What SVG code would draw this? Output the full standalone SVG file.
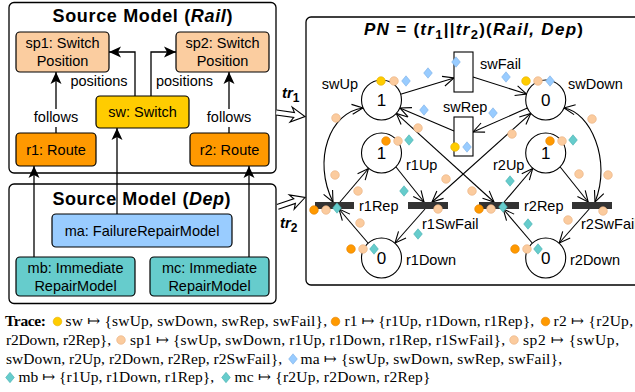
<svg xmlns="http://www.w3.org/2000/svg" xmlns:xlink="http://www.w3.org/1999/xlink" width="635" height="392" viewBox="0 0 635 392">
  <style>
    .frame { fill: #fff; stroke: #000; stroke-width: 1.3; }
    .node { stroke: #000; stroke-width: 1.2; }
    .sans { font-family: "Liberation Sans", Arial, "DejaVu Sans", sans-serif; }
    .lbl { font-family: "Liberation Sans", Arial, "DejaVu Sans", sans-serif; font-size: 14.5px; fill: #000; }
    .mid { text-anchor: middle; }
    .title { font-family: "Liberation Sans", Arial, "DejaVu Sans", sans-serif; font-size: 18px; font-weight: bold; text-anchor: middle; }
    .conn { fill: none; stroke: #000; stroke-width: 1.3; }
    .arc { fill: none; stroke: #000; stroke-width: 1.1; }
    .place { fill: #fff; stroke: #000; stroke-width: 1.1; }
    .trans { fill: #fff; stroke: #000; stroke-width: 1.1; }
    .bar { fill: #333; }
    .mark { font-family: "Liberation Sans", Arial, sans-serif; font-size: 17px; text-anchor: middle; }
    .trace { font-family: "Liberation Serif", "Times New Roman", "DejaVu Serif", serif; font-size: 15.5px; }
    .tk-y { fill: #FFCC00; stroke: #E3AE00; stroke-width: 0.6; }
    .tk-o { fill: #FF9900; stroke: #E07F00; stroke-width: 0.6; }
    .tk-p { fill: #FBCB9E; stroke: #E8AF7E; stroke-width: 0.6; }
    .tk-b { fill: #99CCFF; stroke: #7AAEE6; stroke-width: 0.6; }
    .tk-t { fill: #66CCCC; stroke: #45AFAF; stroke-width: 0.6; }
  </style>
  <defs>
    <marker id="stealth" markerUnits="userSpaceOnUse" markerWidth="14" markerHeight="12" refX="0" refY="0" orient="auto" style="overflow:visible">
      <path d="M-12,-5.5 L0,0 L-12,5.5 L-9,0 Z" fill="#000"/>
    </marker>
    <marker id="vee" markerUnits="userSpaceOnUse" markerWidth="14" markerHeight="12" refX="0" refY="0" orient="auto-start-reverse" style="overflow:visible">
      <path d="M-11,-5 L0,0 L-11,5" fill="none" stroke="#000" stroke-width="1.1"/>
    </marker>
    <circle id="dot" r="4.3"/>
    <path id="dia" d="M0,-5.2 L4.3,0 L0,5.2 L-4.3,0 Z"/>
    <path id="implies" d="M-29,-2.5 L-11,-2.5 L-14,-7.5 L0,0 L-14,7.5 L-11,2.5 L-29,2.5" fill="#fff" stroke="#000" stroke-width="1.1" stroke-linejoin="miter"/>
  </defs>

  <!-- source model frames -->
  <g id="rail-model">
    <rect class="frame" x="9" y="2.5" width="267" height="170.5" rx="5"/>
    <text class="title" x="142.5" y="22" textLength="180" lengthAdjust="spacing">Source Model (<tspan font-style="italic">Rail</tspan>)</text>
  </g>
  <g id="dep-model">
    <rect class="frame" x="9" y="184" width="267" height="119.5" rx="5"/>
    <text class="title" x="141.5" y="205" textLength="178" lengthAdjust="spacing">Source Model (<tspan font-style="italic">Dep</tspan>)</text>
  </g>

  <!-- object nodes -->
  <g id="sp1">
    <rect class="node" x="16" y="32" width="93" height="40" rx="4" fill="#FBCDA0"/>
    <text class="lbl mid" x="62.5" y="48">sp1: Switch</text>
    <text class="lbl mid" x="62.5" y="66">Position</text>
  </g>
  <g id="sp2">
    <rect class="node" x="176" y="32" width="93" height="40" rx="4" fill="#FBCDA0"/>
    <text class="lbl mid" x="222.5" y="48">sp2: Switch</text>
    <text class="lbl mid" x="222.5" y="66">Position</text>
  </g>
  <g id="sw">
    <rect class="node" x="96" y="96" width="93" height="32" rx="4" fill="#FFCC00"/>
    <text class="lbl mid" x="142.5" y="117">sw: Switch</text>
  </g>
  <g id="r1">
    <rect class="node" x="16" y="133" width="80" height="33" rx="4" fill="#FF9900"/>
    <text class="lbl mid" x="56" y="154.5">r1: Route</text>
  </g>
  <g id="r2">
    <rect class="node" x="190" y="133" width="79" height="33" rx="4" fill="#FF9900"/>
    <text class="lbl mid" x="229.5" y="154.5">r2: Route</text>
  </g>
  <g id="ma">
    <rect class="node" x="52" y="214" width="180" height="33" rx="4" fill="#99CCFF"/>
    <text class="lbl mid" x="142" y="235.5">ma: FailureRepairModel</text>
  </g>
  <g id="mb">
    <rect class="node" x="16" y="257" width="119" height="39" rx="4" fill="#66CCCC"/>
    <text class="lbl mid" x="75.5" y="273">mb: Immediate</text>
    <text class="lbl mid" x="75.5" y="291">RepairModel</text>
  </g>
  <g id="mc">
    <rect class="node" x="150" y="257" width="119" height="39" rx="4" fill="#66CCCC"/>
    <text class="lbl mid" x="209.5" y="273">mc: Immediate</text>
    <text class="lbl mid" x="209.5" y="291">RepairModel</text>
  </g>

  <!-- references between objects -->
  <g id="model-connectors">
    <path class="conn" d="M56,133 V127 M56,109 V72" marker-end="url(#stealth)"/>
    <path class="conn" d="M229,133 V127 M229,109 V72" marker-end="url(#stealth)"/>
    <path class="conn" d="M135,96 V52 H109" marker-end="url(#stealth)"/>
    <path class="conn" d="M151,96 V52 H176" marker-end="url(#stealth)"/>
    <path class="conn" d="M34,257 V166" marker-end="url(#stealth)"/>
    <path class="conn" d="M117,214 V128" marker-end="url(#stealth)"/>
    <path class="conn" d="M249,257 V166" marker-end="url(#stealth)"/>
    <text class="lbl mid" x="56" y="122">follows</text>
    <text class="lbl mid" x="229" y="122">follows</text>
    <text class="lbl mid" x="99" y="86">positions</text>
    <text class="lbl mid" x="184.5" y="86">positions</text>
  </g>

  <!-- transformation arrows -->
  <g id="transformations">
    <use href="#implies" transform="translate(305,116.5) rotate(8)"/>
    <use href="#implies" transform="translate(305,197.5) rotate(-19)"/>
    <text class="sans" x="282" y="98" font-size="15" font-weight="bold" font-style="italic">tr<tspan font-style="normal" font-size="12" dy="4">1</tspan></text>
    <text class="sans" x="280" y="228" font-size="15" font-weight="bold" font-style="italic">tr<tspan font-style="normal" font-size="12" dy="4">2</tspan></text>
  </g>

  <!-- resulting Petri net -->
  <g id="petri-net">
    <rect class="frame" x="306" y="17" width="340" height="268" rx="5"/>
    <text class="sans" x="473.5" y="35" font-size="17" font-weight="bold" font-style="italic" text-anchor="middle" textLength="219" lengthAdjust="spacing">PN <tspan font-style="normal">= (</tspan>tr<tspan font-style="normal" font-size="13" dy="4">1</tspan><tspan font-style="normal" dy="-4">||</tspan>tr<tspan font-style="normal" font-size="13" dy="4">2</tspan><tspan font-style="normal" dy="-4">)(</tspan>Rail, Dep<tspan font-style="normal">)</tspan></text>
  </g>

  <g id="pn-arcs">
    <path class="arc" d="M400.6,94.2 L454,78" marker-end="url(#vee)"/>
    <path class="arc" d="M473,77 L526.6,94" marker-end="url(#vee)"/>
    <path class="arc" d="M527.4,108.1 L473,132" marker-end="url(#vee)"/>
    <path class="arc" d="M454,131 L399.9,107.9" marker-end="url(#vee)"/>
    <path class="arc" d="M396.3,113.4 L494,202" marker-start="url(#vee)" marker-end="url(#vee)"/>
    <path class="arc" d="M530.8,113.4 L432,202" marker-start="url(#vee)" marker-end="url(#vee)"/>
    <path class="arc" d="M363,108 C330,112 312,160 333,202" marker-start="url(#vee)" marker-end="url(#vee)"/>
    <path class="arc" d="M564,108 C590,112 612,160 595,202" marker-start="url(#vee)" marker-end="url(#vee)"/>
    <path class="arc" d="M396,167 L424,202" marker-end="url(#vee)"/>
    <path class="arc" d="M425,209 L395,243" marker-end="url(#vee)"/>
    <path class="arc" d="M368,243 L339,209" marker-end="url(#vee)"/>
    <path class="arc" d="M340,202 L368.5,168.5" marker-end="url(#vee)"/>
    <path class="arc" d="M560.2,167 L588.2,202" marker-end="url(#vee)"/>
    <path class="arc" d="M589.2,209 L559.2,243" marker-end="url(#vee)"/>
    <path class="arc" d="M532.2,243 L503.2,209" marker-end="url(#vee)"/>
    <path class="arc" d="M504.2,202 L532.7,168.5" marker-end="url(#vee)"/>
  </g>

  <g id="swUp">
    <circle class="place" cx="381.5" cy="100" r="20"/>
    <text class="mark" x="381.5" y="106">1</text>
    <text class="lbl mid" x="340" y="89">swUp</text>
  </g>
  <g id="swDown">
    <circle class="place" cx="545.7" cy="100" r="20"/>
    <text class="mark" x="545.7" y="106">0</text>
    <text class="lbl" x="568" y="89">swDown</text>
  </g>
  <g id="r1Up">
    <circle class="place" cx="381.5" cy="153" r="20"/>
    <text class="mark" x="381.5" y="159">1</text>
    <text class="lbl" x="406" y="170">r1Up</text>
  </g>
  <g id="r2Up">
    <circle class="place" cx="545.7" cy="153" r="20"/>
    <text class="mark" x="545.7" y="159">1</text>
    <text class="lbl" x="493" y="170">r2Up</text>
  </g>
  <g id="r1Down">
    <circle class="place" cx="381.5" cy="258" r="20"/>
    <text class="mark" x="381.5" y="264">0</text>
    <text class="lbl" x="406" y="265">r1Down</text>
  </g>
  <g id="r2Down">
    <circle class="place" cx="545.7" cy="258" r="20"/>
    <text class="mark" x="545.7" y="264">0</text>
    <text class="lbl" x="570" y="265">r2Down</text>
  </g>
  <g id="swFail">
    <rect class="trans" x="454" y="52" width="19" height="40"/>
    <text class="lbl" x="480" y="68.5">swFail</text>
  </g>
  <g id="swRep">
    <rect class="trans" x="454" y="117" width="19" height="39"/>
    <text class="lbl" x="443" y="112">swRep</text>
  </g>
  <g id="r1Rep">
    <rect class="bar" x="315" y="202" width="39" height="7"/>
    <text class="lbl" x="359" y="211">r1Rep</text>
  </g>
  <g id="r1SwFail">
    <rect class="bar" x="408" y="202" width="40" height="7"/>
    <text class="lbl" x="422" y="229">r1SwFail</text>
  </g>
  <g id="r2Rep">
    <rect class="bar" x="479" y="202" width="40" height="7"/>
    <text class="lbl" x="524" y="211">r2Rep</text>
  </g>
  <g id="r2SwFail">
    <rect class="bar" x="572" y="202" width="40" height="7"/>
    <text class="lbl" x="581" y="229">r2SwFail</text>
  </g>

  <!-- trace annotations on places, transitions and arcs -->
  <g id="trace-marks">
    <use href="#dot" x="381" y="81" class="tk-y"/>
    <use href="#dot" x="394" y="81" class="tk-p"/>
    <use href="#dia" x="406" y="81" class="tk-b"/>
    <use href="#dot" x="526" y="81" class="tk-y"/>
    <use href="#dot" x="538" y="81" class="tk-p"/>
    <use href="#dia" x="550" y="81" class="tk-b"/>
    <use href="#dia" x="456" y="62" class="tk-b"/>
    <use href="#dia" x="428" y="73" class="tk-b"/>
    <use href="#dia" x="506" y="77" class="tk-b"/>
    <use href="#dia" x="424" y="110" class="tk-b"/>
    <use href="#dia" x="493" y="113" class="tk-b"/>
    <use href="#dot" x="455" y="147" class="tk-y"/>
    <use href="#dia" x="467" y="147" class="tk-b"/>
    <use href="#dot" x="336" y="118" class="tk-p"/>
    <use href="#dot" x="592" y="119" class="tk-p"/>
    <use href="#dot" x="418" y="128" class="tk-p"/>
    <use href="#dot" x="512" y="134" class="tk-p"/>
    <use href="#dot" x="386" y="141" class="tk-o"/>
    <use href="#dot" x="398" y="141" class="tk-p"/>
    <use href="#dia" x="409" y="140" class="tk-t"/>
    <use href="#dot" x="550" y="141" class="tk-o"/>
    <use href="#dot" x="562" y="141" class="tk-p"/>
    <use href="#dia" x="573" y="140" class="tk-t"/>
    <use href="#dot" x="335" y="175" class="tk-p"/>
    <use href="#dot" x="358" y="191" class="tk-p"/>
    <use href="#dot" x="360" y="223" class="tk-p"/>
    <use href="#dot" x="314" y="210" class="tk-o"/>
    <use href="#dot" x="326" y="210" class="tk-p"/>
    <use href="#dia" x="337" y="208" class="tk-t"/>
    <use href="#dia" x="404" y="191" class="tk-t"/>
    <use href="#dot" x="438" y="209" class="tk-p"/>
    <use href="#dia" x="418" y="234" class="tk-t"/>
    <use href="#dot" x="446" y="179" class="tk-p"/>
    <use href="#dot" x="472" y="191" class="tk-p"/>
    <use href="#dot" x="479" y="209" class="tk-o"/>
    <use href="#dot" x="491" y="209" class="tk-p"/>
    <use href="#dia" x="503" y="207" class="tk-t"/>
    <use href="#dia" x="510" y="181" class="tk-t"/>
    <use href="#dia" x="528" y="224" class="tk-t"/>
    <use href="#dot" x="579" y="174" class="tk-p"/>
    <use href="#dot" x="608" y="175" class="tk-p"/>
    <use href="#dot" x="603" y="211" class="tk-p"/>
    <use href="#dot" x="568" y="220" class="tk-p"/>
    <use href="#dot" x="351" y="249" class="tk-o"/>
    <use href="#dot" x="363" y="249" class="tk-p"/>
    <use href="#dia" x="374" y="249" class="tk-t"/>
    <use href="#dot" x="515" y="249" class="tk-o"/>
    <use href="#dot" x="527" y="249" class="tk-p"/>
    <use href="#dia" x="538" y="249" class="tk-t"/>
  </g>

  <!-- trace legend -->
  <g id="trace-legend">
    <text class="trace" x="5" y="326" font-weight="bold" textLength="41" lengthAdjust="spacing">Trace:</text>
    <use href="#dot" x="57.5" y="321.5" class="tk-y"/>
    <text class="trace" x="65.5" y="326" textLength="261.5" lengthAdjust="spacing">sw ↦ {swUp, swDown, swRep, swFail},</text>
    <use href="#dot" x="335.5" y="321.5" class="tk-o"/>
    <text class="trace" x="344.5" y="326" textLength="189.5" lengthAdjust="spacing">r1 ↦ {r1Up, r1Down, r1Rep},</text>
    <use href="#dot" x="545.5" y="321.5" class="tk-o"/>
    <text class="trace" x="553.5" y="326" textLength="79.5" lengthAdjust="spacing">r2 ↦ {r2Up,</text>

    <text class="trace" x="6" y="344.5" textLength="105" lengthAdjust="spacing">r2Down, r2Rep},</text>
    <use href="#dot" x="121" y="340" class="tk-p"/>
    <text class="trace" x="130" y="344.5" textLength="375" lengthAdjust="spacing">sp1 ↦ {swUp, swDown, r1Up, r1Down, r1Rep, r1SwFail},</text>
    <use href="#dot" x="514" y="340" class="tk-p"/>
    <text class="trace" x="523" y="344.5" textLength="96" lengthAdjust="spacing">sp2 ↦ {swUp,</text>

    <text class="trace" x="6" y="363.5" textLength="276" lengthAdjust="spacing">swDown, r2Up, r2Down, r2Rep, r2SwFail},</text>
    <use href="#dia" x="293" y="359" class="tk-b"/>
    <text class="trace" x="300.5" y="363.5" textLength="261.5" lengthAdjust="spacing">ma ↦ {swUp, swDown, swRep, swFail},</text>

    <use href="#dia" x="10" y="377.5" class="tk-t"/>
    <text class="trace" x="18.5" y="382" textLength="195.5" lengthAdjust="spacing">mb ↦ {r1Up, r1Down, r1Rep},</text>
    <use href="#dia" x="226" y="377.5" class="tk-t"/>
    <text class="trace" x="234.5" y="382" textLength="196" lengthAdjust="spacing">mc ↦ {r2Up, r2Down, r2Rep}</text>
  </g>
</svg>
